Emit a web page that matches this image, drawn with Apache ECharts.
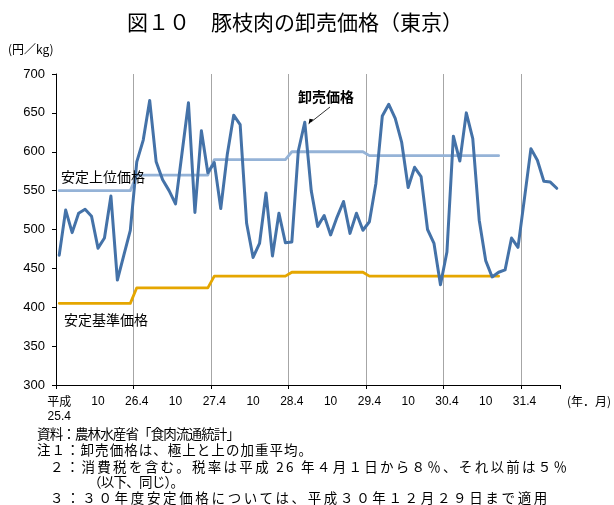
<!DOCTYPE html>
<html>
<head>
<meta charset="utf-8">
<script src="https://cdn.jsdelivr.net/npm/echarts@6/dist/echarts.min.js"></script>
<style>
  html, body { margin: 0; padding: 0; background: #fff; }
  #wrap { position: relative; width: 614px; height: 505px; }
  #chart { position: absolute; left: 0; top: 0; width: 614px; height: 505px; }
  .note { position: absolute; white-space: nowrap; font: 13.5px "Noto Sans CJK JP", sans-serif; color: #000; line-height: 16px; }
</style>
</head>
<body>
<div id="wrap">
  <div id="chart"></div>
</div>
<script>
// Months (Heisei year.month), April 2013 to September 2019
const months = [
  '25.4','25.5','25.6','25.7','25.8','25.9','25.10','25.11','25.12','26.1','26.2','26.3',
  '26.4','26.5','26.6','26.7','26.8','26.9','26.10','26.11','26.12','27.1','27.2','27.3',
  '27.4','27.5','27.6','27.7','27.8','27.9','27.10','27.11','27.12','28.1','28.2','28.3',
  '28.4','28.5','28.6','28.7','28.8','28.9','28.10','28.11','28.12','29.1','29.2','29.3',
  '29.4','29.5','29.6','29.7','29.8','29.9','29.10','29.11','29.12','30.1','30.2','30.3',
  '30.4','30.5','30.6','30.7','30.8','30.9','30.10','30.11','30.12','31.1','31.2','31.3',
  '31.4','31.5','31.6','31.7','31.8','31.9'
];

// Wholesale price of pork carcass, Tokyo (yen/kg)
const wholesalePrice = [
  467, 525, 496, 521, 526, 517, 476, 489, 543, 435, 467, 499,
  587, 615, 666, 587, 564, 550, 533, 598, 663, 522, 627, 573,
  586, 527, 596, 647, 635, 508, 464, 482, 547, 466, 521, 483,
  484, 601, 638, 550, 504, 518, 493, 516, 536, 495, 521, 499,
  510, 559, 646, 661, 643, 612, 554, 580, 568, 500, 482, 429,
  471, 620, 588, 650, 617, 512, 460, 439, 445, 448, 489, 477,
  540, 604, 589, 562, 561, 553
];

// Upper stabilisation price (valid through Dec 2018)
const upperStablePrice = [
  550, 550, 550, 550, 550, 550, 550, 550, 550, 550, 550, 550,
  570, 570, 570, 570, 570, 570, 570, 570, 570, 570, 570, 570,
  590, 590, 590, 590, 590, 590, 590, 590, 590, 590, 590, 590,
  600, 600, 600, 600, 600, 600, 600, 600, 600, 600, 600, 600,
  595, 595, 595, 595, 595, 595, 595, 595, 595, 595, 595, 595,
  595, 595, 595, 595, 595, 595, 595, 595, 595, null, null, null,
  null, null, null, null, null, null
];

// Base stabilisation price (valid through Dec 2018)
const baseStablePrice = [
  405, 405, 405, 405, 405, 405, 405, 405, 405, 405, 405, 405,
  425, 425, 425, 425, 425, 425, 425, 425, 425, 425, 425, 425,
  440, 440, 440, 440, 440, 440, 440, 440, 440, 440, 440, 440,
  445, 445, 445, 445, 445, 445, 445, 445, 445, 445, 445, 445,
  440, 440, 440, 440, 440, 440, 440, 440, 440, 440, 440, 440,
  440, 440, 440, 440, 440, 440, 440, 440, 440, null, null, null,
  null, null, null, null, null, null
];

const yTicks = { min: 300, max: 700, step: 50 };

// Source and notes under the chart; each line is fitted between its left and right edge
const footnotes = [
  '資料：農林水産省「食肉流通統計」',
  '注１：卸売価格は、極上と上の加重平均。',
  '２：消費税を含む。税率は平成 26 年４月１日から８％、それ以前は５％',
  '（以下、同じ）。',
  '３：３０年度安定価格については、平成３０年１２月２９日まで適用'
];
const footnoteBoxes = [
  { left: 37, right: 240, top: 425 },
  { left: 37, right: 312, top: 441 },
  { left: 50, right: 567, top: 458 },
  { left: 88, right: 184, top: 473 },
  { left: 50, right: 548, top: 489 }
];

const JP = '"Noto Sans CJK JP", sans-serif';
const NUM = '"Liberation Sans", Arial, sans-serif';

// notes as fitted page text
(function drawNotes() {
  const wrap = document.getElementById('wrap');
  const ctx = document.createElement('canvas').getContext('2d');
  ctx.font = '13.5px "Noto Sans CJK JP", sans-serif';
  footnotes.forEach((t, i) => {
    const box = footnoteBoxes[i];
    const d = document.createElement('div');
    d.className = 'note';
    d.textContent = t;
    const natural = ctx.measureText(t).width;
    const n = [...t].length;
    const gap = (box.right - box.left - natural) / Math.max(1, n - 1);
    d.style.left = box.left + 'px';
    d.style.top = box.top + 'px';
    d.style.letterSpacing = gap.toFixed(2) + 'px';
    wrap.appendChild(d);
  });
})();

const chart = echarts.init(document.getElementById('chart'), null, { renderer: 'canvas' });

const lineSeries = (name, data, color, width, z) => ({
  name, type: 'line', data, z,
  symbol: 'none', smooth: false, connectNulls: false,
  lineStyle: { color, width, cap: 'round', join: 'round' },
  itemStyle: { color },
  emphasis: { disabled: true },
  animation: false
});

// year gridlines; the closing boundary line at the right edge is left invisible
const gridColors = ['#a6a6a6', '#a6a6a6', '#a6a6a6', '#a6a6a6', '#a6a6a6', '#a6a6a6', 'rgba(0,0,0,0)'];

chart.setOption({
  animation: false,
  backgroundColor: 'transparent',
  grid: { left: 56, top: 74, width: 504, height: 311, containLabel: false },
  xAxis: {
    type: 'category',
    data: months,
    boundaryGap: true,
    axisLine: { show: true, lineStyle: { color: '#000', width: 1 } },
    axisTick: {
      show: true, length: 4, inside: false,
      interval: (i) => i % 12 === 0,
      lineStyle: { color: '#000', width: 1 }
    },
    splitLine: {
      show: true,
      interval: (i) => i % 12 === 0 && i > 0,
      lineStyle: { color: gridColors, width: 1 }
    },
    axisLabel: {
      interval: (i) => i % 6 === 0,
      margin: 9,
      fontFamily: NUM,
      fontSize: 12,
      color: '#000',
      lineHeight: 15,
      verticalAlign: 'top',
      formatter: (v, i) => {
        const m = v.split('.')[1];
        if (i === 0) return '{jp|平成}\n' + v;
        return m === '4' ? v : m;
      },
      rich: { jp: { fontFamily: JP, fontSize: 12, color: '#000', lineHeight: 15 } }
    }
  },
  yAxis: {
    type: 'value',
    min: yTicks.min, max: yTicks.max, interval: yTicks.step,
    axisLine: { show: true, lineStyle: { color: '#000', width: 1 } },
    axisTick: { show: true, length: 4, inside: false, lineStyle: { color: '#000' } },
    splitLine: { show: false },
    axisLabel: { margin: 11, fontFamily: NUM, fontSize: 13, color: '#000' }
  },
  series: [
    lineSeries('安定上位価格', upperStablePrice, '#95b3d7', 2.8, 2),
    lineSeries('安定基準価格', baseStablePrice, '#e5a600', 2.8, 2),
    lineSeries('卸売価格', wholesalePrice, '#4472a8', 3, 3)
  ],
  graphic: [
    { type: 'text', x: 295, y: 22,
      style: { text: '図１０　豚枝肉の卸売価格（東京）', font: '21px ' + JP, fill: '#000',
               align: 'center', verticalAlign: 'middle' } },
    { type: 'text', x: 8, y: 49,
      style: { text: '(円／kg)', font: '12px ' + JP, fill: '#000', verticalAlign: 'middle' } },
    { type: 'text', x: 567, y: 401,
      style: { text: '(年．月)', font: '12px ' + JP, fill: '#000', verticalAlign: 'middle' } },
    { type: 'text', x: 61, y: 177, z: 10,
      style: { text: '安定上位価格', font: '14px ' + JP, fill: '#000', verticalAlign: 'middle' } },
    { type: 'text', x: 64, y: 320, z: 10,
      style: { text: '安定基準価格', font: '14px ' + JP, fill: '#000', verticalAlign: 'middle' } },
    { type: 'text', x: 298, y: 97, z: 10,
      style: { text: '卸売価格', font: 'bold 14px ' + JP, fill: '#000', verticalAlign: 'middle' } },
    // pointer from the wholesale label to its line
    { type: 'line', z: 10, shape: { x1: 330, y1: 107, x2: 311, y2: 122 },
      style: { stroke: '#000', lineWidth: 0.8 } },
    { type: 'polygon', z: 10, shape: { points: [[308.5, 124.5], [313.5, 119.5], [309.5, 118.8]] },
      style: { fill: '#000' } }
  ]
});
</script>
</body>
</html>
